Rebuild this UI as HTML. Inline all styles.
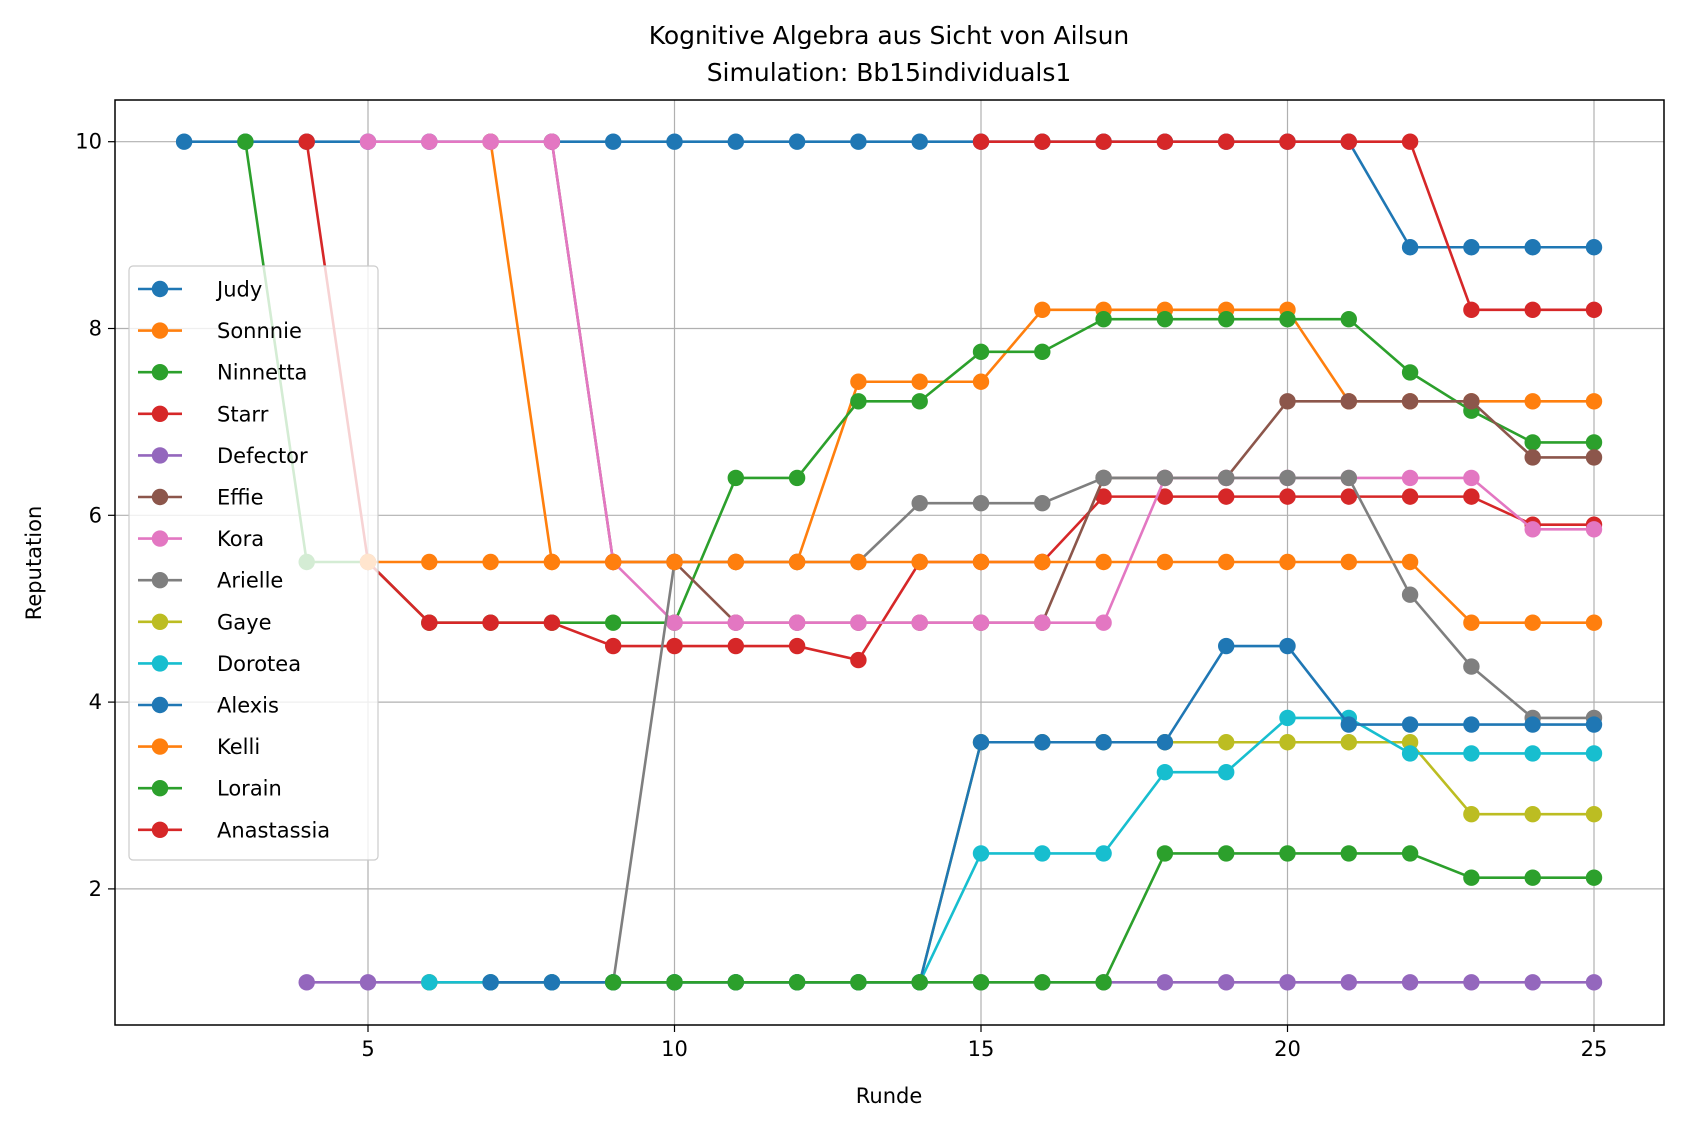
<!DOCTYPE html>
<html><head><meta charset="utf-8"><style>
body{margin:0;background:#fff}
svg{display:block;font-family:"DejaVu Sans","Liberation Sans",sans-serif}
</style></head><body>
<svg id="chart" width="1683" height="1131" viewBox="0 0 1683 1131" xmlns="http://www.w3.org/2000/svg">
<rect width="1683" height="1131" fill="#fff"/>
<g id="grid"></g>
<g id="series"></g>
<rect x="115" y="100" width="1549" height="925" fill="none" stroke="#000" stroke-width="1.5"/>
<g id="ticks"></g>
<text x="889" y="44" font-size="25" text-anchor="middle">Kognitive Algebra aus Sicht von Ailsun</text>
<text x="889" y="81" font-size="25" text-anchor="middle">Simulation: Bb15individuals1</text>
<text x="889" y="1103" font-size="21" text-anchor="middle">Runde</text>
<text x="41" y="563" font-size="21" text-anchor="middle" transform="rotate(-90 41 563)">Reputation</text>
<g id="legend"></g>
</svg>
<script>
const xTicks=[5,10,15,20,25];
const yTicks=[2,4,6,8,10];
const names=["Judy","Sonnnie","Ninnetta","Starr","Defector","Effie","Kora","Arielle","Gaye","Dorotea","Alexis","Kelli","Lorain","Anastassia"];
const colors=["#1f77b4","#ff7f0e","#2ca02c","#d62728","#9467bd","#8c564b","#e377c2","#7f7f7f","#bcbd22","#17becf","#1f77b4","#ff7f0e","#2ca02c","#d62728"];
const starts=[2,7,3,4,4,8,5,9,6,6,7,5,9,15];
const sJudy=[10,10,10,10,10,10,10,10,10,10,10,10,10,10,10,10,10,10,10,10,8.87,8.87,8.87,8.87];
const sSonnnie=[10,5.5,5.5,5.5,5.5,5.5,7.43,7.43,7.43,8.2,8.2,8.2,8.2,8.2,7.22,7.22,7.22,7.22,7.22];
const sNinnetta=[10,5.5,5.5,4.85,4.85,4.85,4.85,4.85,6.4,6.4,7.22,7.22,7.75,7.75,8.1,8.1,8.1,8.1,8.1,7.53,7.12,6.78,6.78];
const sStarr=[10,5.5,4.85,4.85,4.85,4.6,4.6,4.6,4.6,4.45,5.5,5.5,5.5,6.2,6.2,6.2,6.2,6.2,6.2,6.2,5.9,5.9];
const sDefector=[1,1,1,1,1,1,1,1,1,1,1,1,1,1,1,1,1,1,1,1,1,1];
const sEffie=[10,5.5,5.5,4.85,4.85,4.85,4.85,4.85,4.85,6.4,6.4,6.4,7.22,7.22,7.22,7.22,6.62,6.62];
const sKora=[10,10,10,10,5.5,4.85,4.85,4.85,4.85,4.85,4.85,4.85,4.85,6.4,6.4,6.4,6.4,6.4,6.4,5.85,5.85];
const sArielle=[1,5.5,5.5,5.5,5.5,6.13,6.13,6.13,6.4,6.4,6.4,6.4,6.4,5.15,4.38,3.83,3.83];
const sGaye=[1,1,1,1,1,1,1,1,1,3.57,3.57,3.57,3.57,3.57,3.57,3.57,3.57,2.8,2.8,2.8];
const sDorotea=[1,1,1,1,1,1,1,1,1,2.38,2.38,2.38,3.25,3.25,3.83,3.83,3.45,3.45,3.45,3.45];
const sAlexis=[1,1,1,1,1,1,1,1,3.57,3.57,3.57,3.57,4.6,4.6,3.76,3.76,3.76,3.76,3.76];
const sKelli=[5.5,5.5,5.5,5.5,5.5,5.5,5.5,5.5,5.5,5.5,5.5,5.5,5.5,5.5,5.5,5.5,5.5,5.5,4.85,4.85,4.85];
const sLorain=[1,1,1,1,1,1,1,1,1,2.38,2.38,2.38,2.38,2.38,2.12,2.12,2.12];
const sAnastassia=[10,10,10,10,10,10,10,10,8.2,8.2,8.2];
const seriesVals=[sJudy,sSonnnie,sNinnetta,sStarr,sDefector,sEffie,sKora,sArielle,sGaye,sDorotea,sAlexis,sKelli,sLorain,sAnastassia];
const NS="http://www.w3.org/2000/svg";
const xs=v=>368+(v-5)*61.3;
const ys=v=>141.7+(10-v)*93.4;
function mk(tag,attrs,parent){const e=document.createElementNS(NS,tag);for(const k in attrs)e.setAttribute(k,attrs[k]);parent.appendChild(e);return e;}
const grid=document.getElementById('grid'),ticks=document.getElementById('ticks'),ser=document.getElementById('series'),leg=document.getElementById('legend');
xTicks.forEach(t=>{const x=xs(t);
 let g=mk('line',{x1:x,x2:x,y1:100,y2:1025,stroke:'#b0b0b0','stroke-width':1.2},grid);
 
 mk('line',{x1:x,x2:x,y1:1025,y2:1032,stroke:'#000','stroke-width':1.2},ticks);
 let tx=mk('text',{x:x,y:1056,'font-size':21,'text-anchor':'middle'},ticks);tx.textContent=t;
 });
yTicks.forEach(t=>{const y=ys(t);
 let g=mk('line',{x1:115,x2:1664,y1:y,y2:y,stroke:'#b0b0b0','stroke-width':1.2},grid);
 
 mk('line',{x1:108,x2:115,y1:y,y2:y,stroke:'#000','stroke-width':1.2},ticks);
 let tx=mk('text',{x:102,y:y+7,'font-size':21,'text-anchor':'end'},ticks);tx.textContent=t;
 });
seriesVals.forEach((vals,i)=>{
 const g=mk('g',{},ser);
 
 
 const pts=vals.map((v,j)=>xs(starts[i]+j)+','+ys(v)).join(' ');
 mk('polyline',{points:pts,fill:'none',stroke:colors[i],'stroke-width':2.6},g);
 vals.forEach((v,j)=>{const c=mk('circle',{cx:xs(starts[i]+j),cy:ys(v),r:8.2,fill:colors[i]},g);
  
  });
});
const lb=mk('rect',{x:129,y:266,width:249,height:594,rx:4,fill:'#fff','fill-opacity':0.8,stroke:'#ccc','stroke-width':1.2},leg);

names.forEach((n,i)=>{const y=289+i*41.6;
 const g=mk('g',{},leg);
 
 
 mk('line',{x1:138,x2:182,y1:y,y2:y,stroke:colors[i],'stroke-width':2.6},g);
 mk('circle',{cx:160,cy:y,r:8.2,fill:colors[i]},g);
 const t=mk('text',{x:217,y:y+7.5,'font-size':21},g);t.textContent=n;});
</script>
</body></html>
